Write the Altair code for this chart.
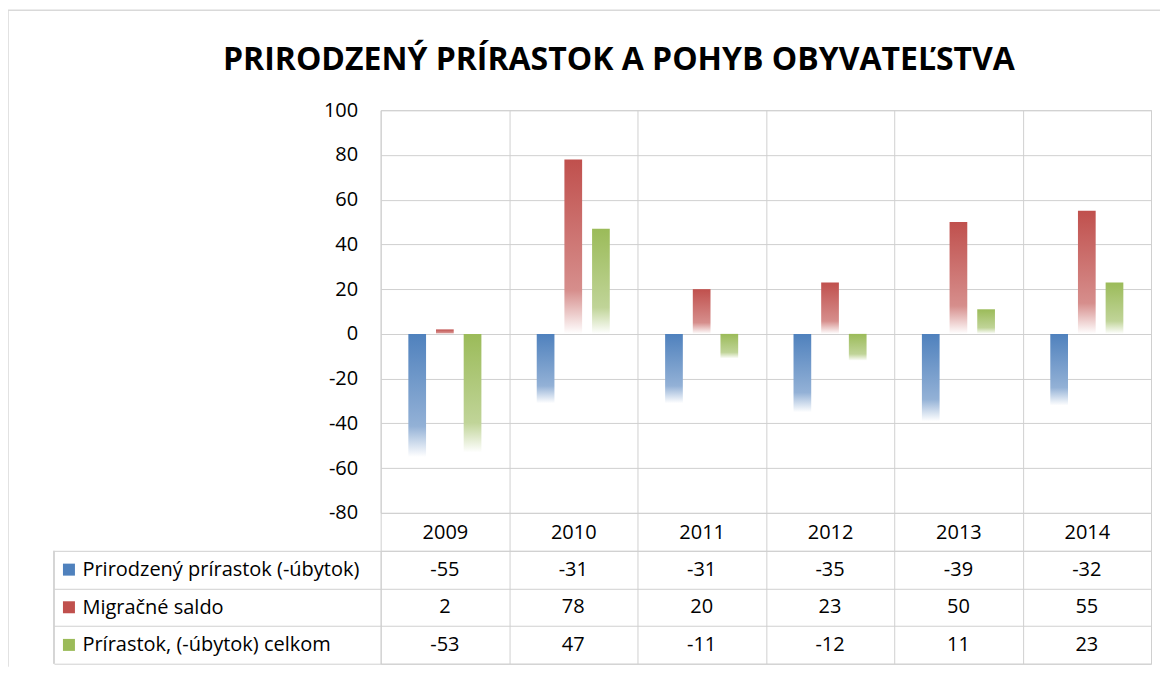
import altair as alt
import pandas as pd

years = ["2009", "2010", "2011", "2012", "2013", "2014"]
series = ["Prirodzený prírastok (-úbytok)", "Migračné saldo", "Prírastok, (-úbytok) celkom"]
natural = [-55, -31, -31, -35, -39, -32]
migration = [2, 78, 20, 23, 50, 55]
total = [-53, 47, -11, -12, 11, 23]
y_ticks = [-80, -60, -40, -20, 0, 20, 40, 60, 80, 100]
title_text = "PRIRODZENÝ PRÍRASTOK A POHYB OBYVATEĽSTVA"

base_colors = ["#4F81BD", "#C0504D", "#9BBB59"]
light_colors = ["#93B1D6", "#D68E8C", "#C0D498"]
end_colors = ["#FFFFFF", "#FFFFFF", "#FFFFFF"]

rows = []
for s, vals in zip(series, [natural, migration, total]):
    for yv, v in zip(years, vals):
        rows.append({"year": yv, "series": s, "value": v, "label": str(v)})
df = pd.DataFrame(rows)
df_series = pd.DataFrame({"series": series})
df_one = pd.DataFrame({"k": [0]})

FONT = "Open Sans"
GRID = "#D0D0D0"
FRAME = "#D9D9D9"
W = 771
H = 403
HEAD = 38
TH = 113
LEFT = 327

xscale = alt.Scale(domain=years, paddingInner=0, paddingOuter=0)

def grad(i):
    return alt.Gradient(
        gradient="linear",
        stops=[
            alt.GradientStop(color=base_colors[i], offset=0),
            alt.GradientStop(color=light_colors[i], offset=0.75),
            alt.GradientStop(color=end_colors[i], offset=1),
        ],
        x1=0, x2=0, y1=0, y2=1,
    )

base = alt.Chart(df).encode(
    x=alt.X("year:O", scale=xscale, sort=years,
            axis=alt.Axis(title=None, labelAngle=0, tickBand="extent", ticks=True,
                          tickSize=HEAD, tickColor=GRID, domain=False, grid=True,
                          gridColor=GRID, labelFontSize=20, labelPadding=-28)),
    xOffset=alt.XOffset("series:N", scale=alt.Scale(domain=series, paddingInner=0.36, paddingOuter=1)),
    y=alt.Y("value:Q", scale=alt.Scale(domain=[-80, 100], nice=False),
            axis=alt.Axis(title=None, values=y_ticks, grid=True, gridColor=GRID,
                          ticks=False, domain=False, labelPadding=23, labelFontSize=20,
                          labelExpr="'' + datum.value")),
)

bar_layers = [
    base.transform_filter(alt.datum.series == s).mark_bar(color=grad(i))
    for i, s in enumerate(series)
]
frame_top = alt.Chart(df_one).mark_rule(color=FRAME, strokeWidth=1.5).encode(
    x=alt.value(-373), x2=alt.value(W + 9), y=alt.value(-100)
)
frame_left = alt.Chart(df_one).mark_rule(color=FRAME, strokeWidth=1.5).encode(
    x=alt.value(-373), y=alt.value(-100), y2=alt.value(H + HEAD + TH + 3)
)
main = alt.layer(*bar_layers, frame_top, frame_left).properties(width=W, height=H)

tbase = alt.Chart(df).encode(
    x=alt.X("year:O", scale=xscale, sort=years,
            axis=alt.Axis(title=None, labels=False, ticks=False, domain=False, grid=True,
                          gridColor=GRID, tickBand="extent")),
    y=alt.Y("series:N", scale=alt.Scale(domain=series, paddingInner=0, paddingOuter=0),
            axis=alt.Axis(title=None, labelAlign="left", tickBand="extent", tickSize=LEFT,
                          tickColor=GRID, labelPadding=-28, grid=True, gridColor=GRID,
                          domain=False, labelFontSize=20, labelLimit=400)),
)
table_text = tbase.mark_text(fontSize=20, font=FONT, color="black").encode(text="label:N")

swatches = alt.Chart(df_series).mark_square(size=144, opacity=1).encode(
    x=alt.value(-312),
    y=alt.Y("series:N", scale=alt.Scale(domain=series, paddingInner=0, paddingOuter=0)),
    color=alt.Color("series:N", scale=alt.Scale(domain=series, range=base_colors), legend=None),
)
left_border = alt.Chart(df_series).mark_rule(color=GRID).encode(
    x=alt.value(-LEFT), y=alt.value(0), y2=alt.value(TH)
)
table = alt.layer(table_text, swatches, left_border).properties(width=W, height=TH)

chart = alt.vconcat(main, table, spacing=HEAD, bounds="flush").properties(
    title=alt.Title(title_text, fontSize=32, font=FONT, fontWeight="bold", color="black",
                    anchor="middle", offset=-68, dx=35),
    padding={"left": -2, "top": 0, "right": 0, "bottom": 0},
).configure_view(stroke=GRID).configure_axis(labelFont=FONT, labelColor="black")

chart.save("out.html", embed_options={"renderer": "svg", "actions": False})
